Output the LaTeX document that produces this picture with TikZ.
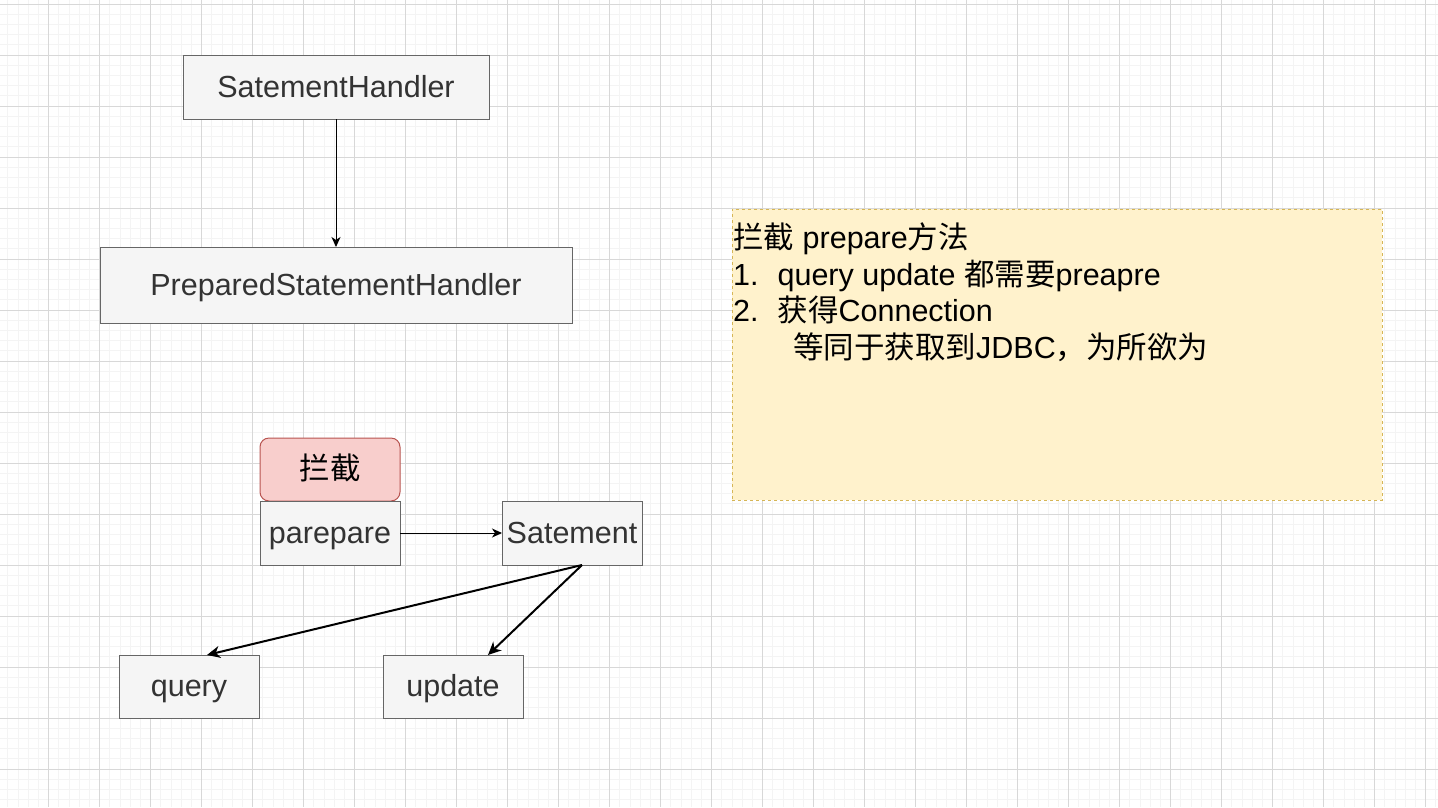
\documentclass[tikz,border=0pt]{standalone}
\usepackage{fontspec}
\setmainfont{Liberation Sans}
\newfontfamily\cjk{Noto Sans CJK SC}
\usetikzlibrary{arrows.meta}
\definecolor{gridminor}{HTML}{F4F4F4}
\definecolor{gridmajor}{HTML}{D8D8D8}
\definecolor{boxfill}{HTML}{F5F5F5}
\definecolor{boxline}{HTML}{666666}
\definecolor{boxtext}{HTML}{333333}
\definecolor{redfill}{HTML}{F8CECC}
\definecolor{redline}{HTML}{B85450}
\definecolor{notefill}{HTML}{FFF2CC}
\definecolor{noteline}{HTML}{D6B656}
\newcommand\cn[1]{{\cjk #1}}
\begin{document}
\begin{tikzpicture}[x=1pt,y=-1pt,
  graybox/.style={draw=boxline,fill=boxfill,text=boxtext,line width=1pt,inner sep=0pt,outer sep=0pt,font=\fontsize{30.5}{36}\selectfont,text height=27pt,text depth=7pt},
  redbox/.style={draw=redline,fill=redfill,text=black,line width=1pt,rounded corners=9pt,inner sep=0pt,outer sep=0pt,font=\fontsize{30.5}{36}\selectfont,text height=27pt,text depth=7pt},
  thinarrow/.style={draw=black,line width=1pt,-{Stealth[length=10pt,width=9pt,inset=3pt]}},
  thickarrow/.style={draw=black,line width=2pt,-{Stealth[length=13pt,width=12pt,inset=4pt]}}
]
\useasboundingbox (0,0) rectangle (1438,807);
\fill[white] (0,0) rectangle (1438,807);
% grid
\foreach \k in {0,...,141} {\pgfmathsetmacro\xx{7.9+10.2*\k}\draw[gridminor,line width=1pt] (\xx,0) -- (\xx,807);}
\foreach \k in {0,...,79} {\pgfmathsetmacro\yy{4+10.2*\k}\draw[gridminor,line width=1pt] (0,\yy) -- (1438,\yy);}
\foreach \k in {0,...,28} {\pgfmathsetmacro\xx{-2.3+51*\k}\draw[gridmajor,line width=1pt] (\xx,0) -- (\xx,807);}
\foreach \k in {0,...,15} {\pgfmathsetmacro\yy{4+51*\k}\draw[gridmajor,line width=1pt] (0,\yy) -- (1438,\yy);}

% nodes
\node[graybox,minimum width=306pt,minimum height=64pt] (sh) at (336,87) {SatementHandler};
\node[graybox,minimum width=472pt,minimum height=76pt] (psh) at (336,285) {PreparedStatementHandler};
\node[redbox,minimum width=140pt,minimum height=63pt] (lj) at (330,469.5) {\cn{拦截}};
\node[graybox,minimum width=140pt,minimum height=64pt] (pp) at (330,533) {parepare};
\node[graybox,minimum width=140pt,minimum height=64pt] (st) at (572,533) {Satement};
\node[graybox,minimum width=140pt,minimum height=63pt] (q) at (189,686.5) {query};
\node[graybox,minimum width=140pt,minimum height=63pt] (u) at (453,686.5) {update};

\node[draw=noteline,fill=notefill,dashed,line width=1pt,minimum width=650pt,minimum height=291pt,inner sep=0pt,outer sep=0pt] (note) at (1057,354.5) {};
\node[anchor=north west,align=left,inner sep=0pt,font=\fontsize{30.5}{36.7}\selectfont,text=black] (notetext) at (733,222.5)
{\cn{拦截} prepare\cn{方法}\\
1.\hspace{19pt}query update \cn{都需要}preapre\\
2.\hspace{19pt}\cn{获得}Connection\\
\hspace{60pt}\cn{等同于获取到}JDBC\cn{，为所欲为}};

% connectors
\draw[thinarrow] (sh) -- (psh);
\draw[thinarrow] (pp) -- (st);
\coordinate (stout) at ([xshift=10pt]st.south);
\coordinate (qin) at ([xshift=18pt]q.north);
\coordinate (uin) at ([xshift=35pt]u.north);
\draw[thickarrow] (stout) -- (qin);
\draw[thickarrow] (stout) -- (uin);
\end{tikzpicture}
\end{document}
